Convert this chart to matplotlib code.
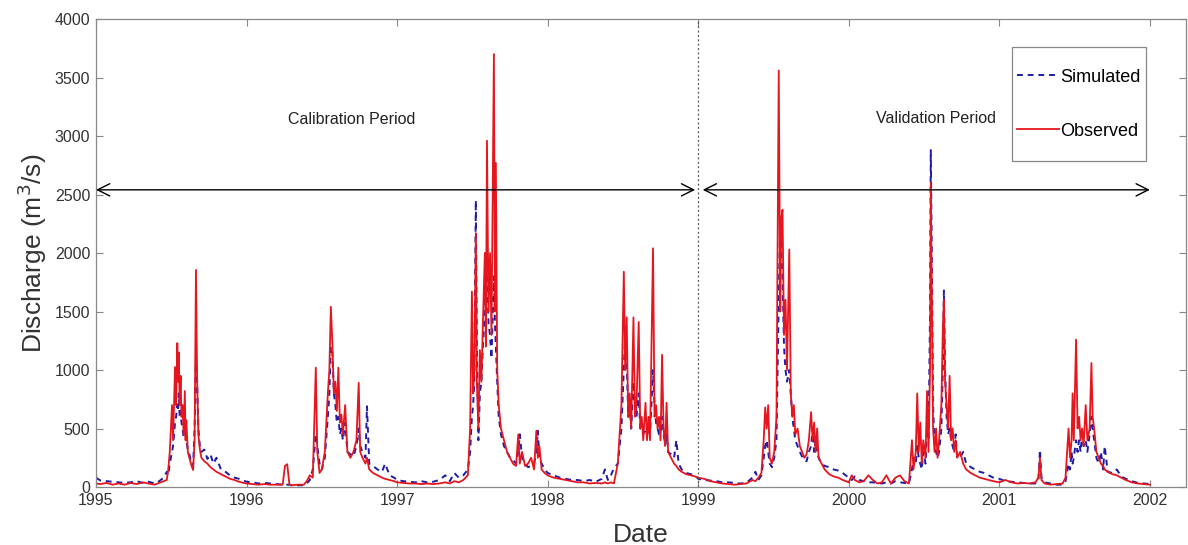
import numpy as np
import matplotlib
matplotlib.use('Agg')
import matplotlib.pyplot as plt

plt.rcParams['font.family'] = ['Liberation Sans', 'DejaVu Sans']

# decimal year, observed and simulated discharge (m3/s)
date = [
    # 1995
    1995.00, 1995.03, 1995.07, 1995.11, 1995.15, 1995.19, 1995.23, 1995.27, 1995.31, 1995.35,
    1995.39, 1995.42, 1995.45, 1995.47, 1995.48, 1995.49, 1995.505, 1995.512, 1995.525, 1995.532,
    1995.54, 1995.545, 1995.55, 1995.556, 1995.562, 1995.568, 1995.575, 1995.582, 1995.59, 1995.595,
    1995.60, 1995.61, 1995.62, 1995.635, 1995.645, 1995.655, 1995.664, 1995.672, 1995.68, 1995.69,
    1995.70, 1995.72, 1995.74, 1995.76, 1995.78, 1995.80, 1995.83, 1995.86, 1995.89, 1995.92,
    1995.95, 1995.98,
    # 1996
    1996.00, 1996.04, 1996.08, 1996.12, 1996.16, 1996.20, 1996.24, 1996.255, 1996.27, 1996.285,
    1996.30, 1996.34, 1996.38, 1996.40, 1996.42, 1996.44, 1996.46, 1996.47, 1996.485, 1996.50,
    1996.52, 1996.54, 1996.55, 1996.56, 1996.57, 1996.58, 1996.59, 1996.60, 1996.61, 1996.62,
    1996.63, 1996.64, 1996.655, 1996.67, 1996.69, 1996.71, 1996.73, 1996.745, 1996.755, 1996.77,
    1996.79, 1996.80, 1996.815, 1996.84, 1996.87, 1996.90, 1996.92, 1996.95, 1996.98,
    # 1997
    1997.00, 1997.04, 1997.08, 1997.12, 1997.16, 1997.20, 1997.24, 1997.28, 1997.32, 1997.35,
    1997.38, 1997.41, 1997.44, 1997.47, 1997.485, 1997.497, 1997.505, 1997.513, 1997.523, 1997.53,
    1997.54, 1997.55, 1997.56, 1997.57, 1997.583, 1997.59, 1997.597, 1997.607, 1997.617, 1997.627,
    1997.643, 1997.65, 1997.656, 1997.665, 1997.675, 1997.69, 1997.71, 1997.73, 1997.75, 1997.77,
    1997.79, 1997.805, 1997.815, 1997.83, 1997.85, 1997.87, 1997.89, 1997.91, 1997.925, 1997.935,
    1997.945, 1997.96, 1997.98,
    # 1998
    1998.00, 1998.04, 1998.08, 1998.12, 1998.16, 1998.20, 1998.24, 1998.28, 1998.32, 1998.36,
    1998.38, 1998.40, 1998.42, 1998.44, 1998.466, 1998.49, 1998.506, 1998.515, 1998.525, 1998.535,
    1998.545, 1998.555, 1998.57, 1998.58, 1998.59, 1998.605, 1998.615, 1998.625, 1998.635, 1998.65,
    1998.66, 1998.67, 1998.68, 1998.70, 1998.71, 1998.72, 1998.73, 1998.74, 1998.75, 1998.76,
    1998.77, 1998.78, 1998.79, 1998.80, 1998.82, 1998.84, 1998.855, 1998.87, 1998.89, 1998.92,
    1998.95, 1998.98,
    # 1999
    1999.00, 1999.04, 1999.08, 1999.12, 1999.16, 1999.20, 1999.24, 1999.28, 1999.32, 1999.36,
    1999.38, 1999.40, 1999.42, 1999.435, 1999.445, 1999.455, 1999.465, 1999.475, 1999.49, 1999.505,
    1999.52, 1999.535, 1999.545, 1999.552, 1999.56, 1999.57, 1999.58, 1999.59, 1999.605, 1999.615,
    1999.625, 1999.635, 1999.645, 1999.66, 1999.675, 1999.69, 1999.705, 1999.72, 1999.735, 1999.75,
    1999.76, 1999.77, 1999.78, 1999.79, 1999.80, 1999.82, 1999.84, 1999.87, 1999.90, 1999.93,
    1999.96, 1999.98,
    # 2000
    2000.00, 2000.02, 2000.04, 2000.07, 2000.10, 2000.13, 2000.16, 2000.19, 2000.22, 2000.25,
    2000.28, 2000.31, 2000.34, 2000.37, 2000.40, 2000.42, 2000.43, 2000.445, 2000.455, 2000.465,
    2000.475, 2000.485, 2000.495, 2000.51, 2000.52, 2000.53, 2000.54, 2000.545, 2000.553, 2000.56,
    2000.57, 2000.58, 2000.59, 2000.60, 2000.615, 2000.625, 2000.632, 2000.64, 2000.65, 2000.66,
    2000.67, 2000.68, 2000.69, 2000.70, 2000.71, 2000.72, 2000.74, 2000.76, 2000.78, 2000.81,
    2000.84, 2000.87, 2000.90, 2000.93, 2000.96,
    # 2001
    2001.00, 2001.04, 2001.08, 2001.12, 2001.16, 2001.20, 2001.24, 2001.26, 2001.27, 2001.28,
    2001.30, 2001.34, 2001.38, 2001.42, 2001.44, 2001.46, 2001.47, 2001.48, 2001.487, 2001.495,
    2001.51, 2001.52, 2001.53, 2001.54, 2001.55, 2001.56, 2001.574, 2001.585, 2001.60, 2001.612,
    2001.62, 2001.63, 2001.645, 2001.66, 2001.675, 2001.69, 2001.70, 2001.72, 2001.75, 2001.78,
    2001.81, 2001.84, 2001.88, 2001.92, 2001.96, 2002.00,
]

observed = [
    # 1995
    30, 25, 35, 20, 30, 20, 35, 25, 40, 30,
    20, 35, 50, 60, 150, 300, 700, 400, 1025, 700,
    1230, 900, 1150, 700, 950, 600, 700, 450, 820, 400,
    570, 300, 250, 180, 145, 400, 1855, 900, 450, 320,
    250, 220, 200, 170, 150, 130, 110, 90, 70, 60,
    45, 35,
    # 1996
    30, 25, 20, 25, 20, 20, 20, 180, 195, 20,
    15, 20, 20, 50, 100, 80, 1020, 300, 120, 150,
    300, 800, 1000, 1540, 1230, 800, 900, 650, 1020, 550,
    620, 450, 700, 300, 250, 300, 400, 890, 300, 250,
    200, 250, 150, 120, 100, 80, 70, 60, 50,
    # 1997
    40, 35, 30, 30, 25, 30, 25, 30, 40, 30,
    50, 40, 60, 100, 500, 1670, 800, 1000, 2170, 900,
    500, 1170, 900, 1400, 2000, 1200, 2960, 1500, 2000, 1300,
    3700, 1500, 2770, 1000, 700, 500, 400, 300, 250, 200,
    180, 450, 200, 300, 180, 200, 250, 150, 480, 250,
    350, 150, 120,
    # 1998
    100, 80, 70, 60, 50, 40, 40, 30, 35, 30,
    40, 30, 40, 30, 200, 700, 1840, 1000, 1450, 600,
    800, 500, 1450, 600, 700, 1410, 500, 600, 400, 720,
    400, 600, 400, 2040, 600, 700, 500, 600, 400, 1130,
    500, 350, 720, 300, 250, 200, 180, 150, 130, 110,
    100, 90,
    # 1999
    80, 70, 50, 40, 30, 25, 20, 25, 30, 60,
    50, 80, 120, 400, 680, 500, 700, 250, 200, 300,
    600, 3560, 1500, 2300, 2370, 1300, 1600, 1000, 2030, 800,
    600, 700, 450, 500, 350, 300, 250, 280, 400, 640,
    400, 550, 300, 500, 250, 200, 150, 110, 90, 80,
    60, 50,
    # 2000
    40, 100, 60, 40, 50, 100, 60, 30, 40, 100,
    30, 80, 100, 50, 30, 400, 150, 300, 800, 300,
    550, 200, 400, 250, 820, 300, 1000, 2600, 1500, 500,
    300, 500, 250, 400, 700, 1350, 1600, 900, 700, 500,
    950, 400, 500, 300, 400, 250, 300, 200, 150, 120,
    100, 80, 70, 60, 50,
    # 2001
    40, 60, 40, 30, 35, 30, 40, 80, 250, 60,
    30, 20, 25, 30, 80, 500, 250, 400, 800, 400,
    1260, 500, 600, 400, 500, 350, 700, 400, 500, 1060,
    600, 500, 300, 250, 200, 180, 150, 130, 110, 100,
    80, 60, 40, 30, 25, 20,
]

simulated = [
    # 1995
    80, 55, 50, 45, 40, 35, 40, 50, 35, 45,
    30, 50, 80, 130, 100, 200, 300, 350, 550, 600,
    700, 650, 800, 600, 650, 550, 500, 420, 500, 450,
    400, 320, 280, 200, 180, 500, 1100, 900, 500, 350,
    300, 320, 240, 280, 200, 250, 150, 130, 100, 80,
    70, 55,
    # 1996
    45, 40, 30, 35, 30, 25, 20, 20, 20, 20,
    15, 15, 15, 30, 60, 150, 450, 350, 200, 150,
    250, 600, 800, 1200, 1150, 800, 700, 550, 600, 450,
    500, 400, 550, 300, 280, 260, 350, 500, 350, 300,
    250, 690, 200, 180, 150, 130, 200, 100, 80,
    # 1997
    60, 50, 45, 40, 50, 40, 45, 60, 100, 50,
    120, 80, 100, 150, 300, 600, 700, 900, 2450, 1200,
    400, 800, 900, 1200, 1500, 1900, 2000, 1400, 1300, 1100,
    1800, 1400, 1200, 900, 600, 450, 350, 300, 250, 230,
    200, 300, 450, 250, 200, 170, 180, 200, 300, 480,
    250, 200, 150,
    # 1998
    120, 100, 80, 70, 60, 60, 50, 60, 45, 70,
    150, 60, 100, 160, 200, 500, 1000, 1300, 1100, 600,
    700, 500, 900, 700, 600, 800, 500, 500, 450, 500,
    450, 500, 450, 1000, 700, 550, 500, 450, 450, 600,
    450, 380, 450, 300, 280, 250, 400, 200, 150, 120,
    110, 100,
    # 1999
    70, 60, 55, 50, 40, 40, 35, 30, 35, 80,
    130, 60, 100, 250, 350, 400, 300, 200, 170, 250,
    400, 1600, 2300, 2000, 1800, 1200, 1000, 900, 1000, 800,
    600, 500, 400, 350, 300, 260, 230, 220, 300, 350,
    500, 300, 400, 300, 250, 200, 180, 170, 150, 140,
    120, 100,
    # 2000
    80, 60, 90, 60, 50, 40, 40, 35, 30, 40,
    30, 50, 40, 35, 30, 150, 250, 200, 350, 250,
    200, 150, 300, 200, 500, 400, 1500, 2880, 1800, 700,
    350, 300, 250, 300, 500, 1000, 1680, 1000, 600, 450,
    500, 400, 350, 300, 450, 250, 250, 300, 200, 170,
    150, 130, 120, 100, 80,
    # 2001
    70, 50, 45, 40, 35, 30, 30, 60, 320, 80,
    40, 30, 20, 20, 50, 200, 150, 300, 200, 250,
    400, 300, 400, 300, 450, 350, 400, 300, 450, 600,
    500, 400, 250, 200, 300, 150, 350, 130, 120, 150,
    90, 70, 50, 35, 30, 25,
]

year_ticks = [1995, 1996, 1997, 1998, 1999, 2000, 2001, 2002]
q_ticks = [0, 500, 1000, 1500, 2000, 2500, 3000, 3500, 4000]
split_year = 1999
arrow_q = 2540

fig = plt.figure(figsize=(11.88, 5.45), dpi=100)
ax = fig.add_axes([0.0808, 0.1064, 0.9175, 0.8587])

ax.plot(date, simulated, color='#1c1ca8', lw=1.4, ls=(0, (3, 2.5)), label='Simulated')
ax.plot(date, observed, color='#e5161e', lw=1.3, label='Observed')

# period separator and arrows
ax.axvline(split_year, color='#555555', lw=0.9, ls=(0, (1.5, 2)))
arrow_props = dict(arrowstyle='<->', color='black', lw=1.0, mutation_scale=22,
                   shrinkA=0, shrinkB=0)
ax.annotate('', xy=(year_ticks[0], arrow_q), xytext=(split_year - 0.02, arrow_q),
            arrowprops=arrow_props)
ax.annotate('', xy=(split_year + 0.03, arrow_q), xytext=(year_ticks[-1], arrow_q),
            arrowprops=arrow_props)
ax.text(1996.70, 3145, 'Calibration Period', ha='center', va='center', fontsize=11.5, color='#222222')
ax.text(2000.58, 3150, 'Validation Period', ha='center', va='center', fontsize=11.5, color='#222222')

ax.set_xlim(1995, 2002.24)
ax.set_ylim(0, 4000)
ax.set_xticks(year_ticks)
ax.set_xticklabels([str(y) for y in year_ticks])
ax.set_yticks(q_ticks)
ax.tick_params(direction='in', top=True, right=True, length=5, width=0.8,
               color='#888888', labelsize=11.5, labelcolor='#333333', pad=4)
for s in ax.spines.values():
    s.set_color('#888888')
    s.set_linewidth(0.9)

ax.set_xlabel('Date', fontsize=19, color='#333333', labelpad=11)
ax.set_ylabel('Discharge (m$^3$/s)', fontsize=19, color='#333333', labelpad=4)

leg = ax.legend(loc='upper right', bbox_to_anchor=(0.963, 0.94), borderaxespad=0,
                fontsize=13, fancybox=False, framealpha=1, edgecolor='#888888',
                handlelength=2.35, handleheight=3.9, handletextpad=0.05,
                labelspacing=0.2, borderpad=0.28)
leg.get_frame().set_linewidth(0.9)
# drop the handle lines to the middle of the label text
for h in leg.legend_handles:
    h.set_ydata(np.asarray(h.get_ydata()) - 5.8)

fig.savefig('out.png', dpi=100)
